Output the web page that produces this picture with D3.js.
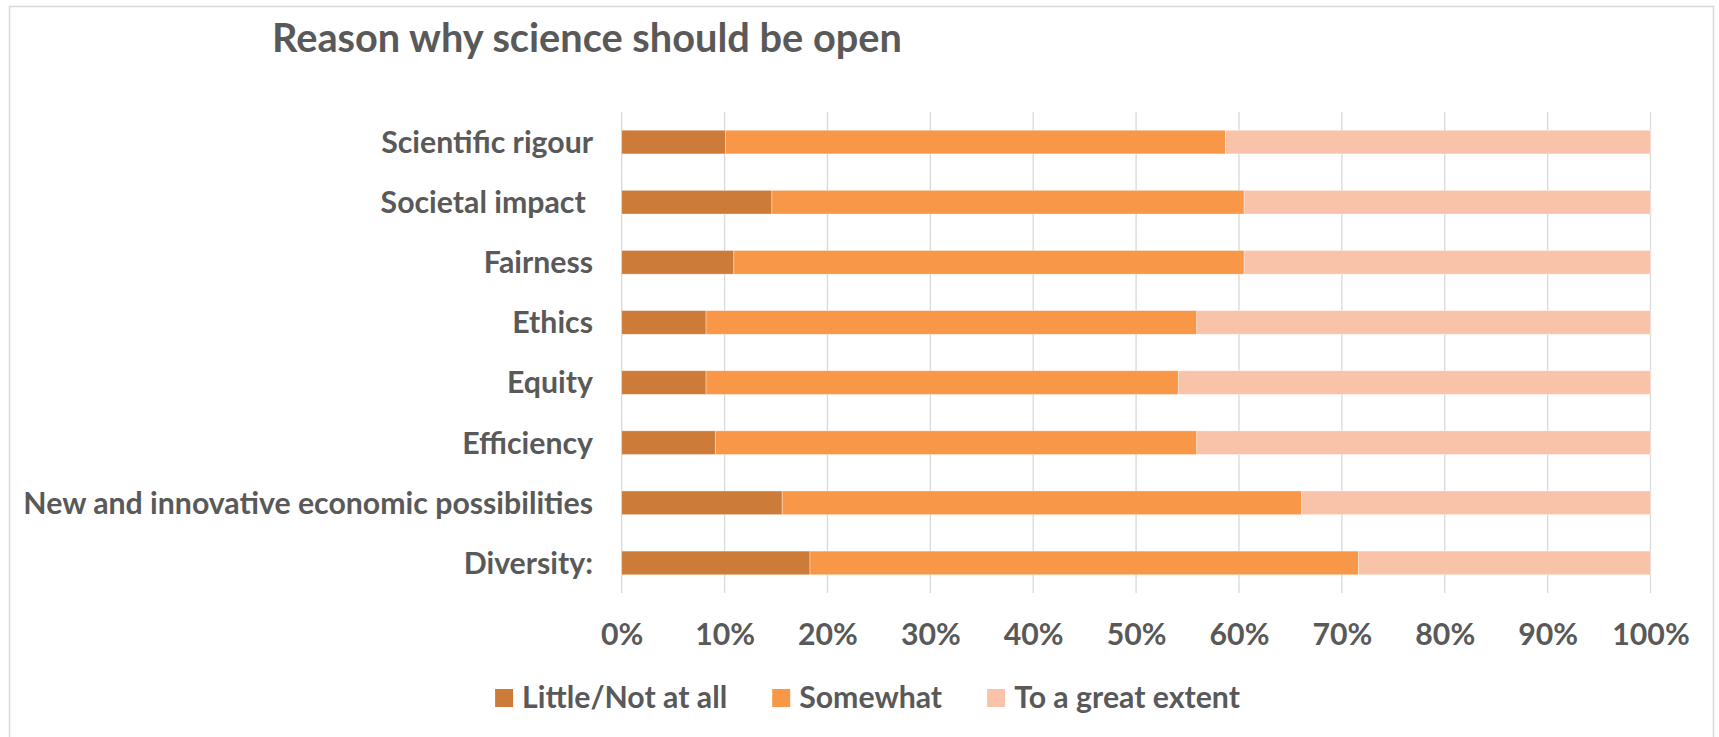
<!DOCTYPE html>
<html>
<head>
<meta charset="utf-8">
<script src="https://cdn.jsdelivr.net/npm/d3@7"></script>
<style>
  html, body { margin: 0; padding: 0; background: #ffffff; }
  svg { display: block; }
  text { font-family: Lato, "Open Sans", sans-serif; font-weight: 700; fill: #595959; }
</style>
</head>
<body>
<svg id="chart" width="1719" height="737"></svg>
<script>
// Survey answers (% of respondents), one entry per reason
const categories = [
  "Scientific rigour",
  "Societal impact ",
  "Fairness",
  "Ethics",
  "Equity",
  "Efficiency",
  "New and innovative economic possibilities",
  "Diversity:"
];
const littleNotAtAll = [10.1, 14.6, 10.9, 8.2, 8.2, 9.1, 15.6, 18.3];
const somewhat       = [48.6, 45.9, 49.6, 47.7, 45.9, 46.8, 50.5, 53.3];
const greatExtent    = [41.3, 39.5, 39.5, 44.1, 45.9, 44.1, 33.9, 28.4];

const seriesNames = ["Little/Not at all", "Somewhat", "To a great extent"];
const seriesColors = ["#CD7B38", "#F79747", "#F9C3AA"];
const tickValues = [0, 10, 20, 30, 40, 50, 60, 70, 80, 90, 100];
const chartTitle = "Reason why science should be open";

const svg = d3.select("#chart");

// outer chart frame
svg.append("rect")
  .attr("x", 9.5).attr("y", 6.5)
  .attr("width", 1704).attr("height", 740)
  .attr("fill", "none").attr("stroke", "#d9d9d9").attr("stroke-width", 1.5);

// font size that makes a string span a given width
function fitSize(str, width) {
  const probe = svg.append("text").style("font-size", "100px").text(str);
  const w = probe.node().getComputedTextLength();
  probe.remove();
  return 100 * width / w;
}
const fs = fitSize(categories[6], 570);   // body text size
const titleFs = fitSize(chartTitle, 630); // title size

const plot = { left: 621.7, right: 1650.5, top: 112, bottom: 593 };

const x = d3.scaleLinear().domain([0, 100]).range([plot.left, plot.right]);
const y = d3.scaleBand().domain(categories).range([plot.top, plot.bottom])
  .paddingInner(0.606).paddingOuter(0.303);

// vertical gridlines
svg.append("g")
  .selectAll("line")
  .data(tickValues)
  .join("line")
  .attr("x1", d => x(d)).attr("x2", d => x(d))
  .attr("y1", plot.top).attr("y2", plot.bottom)
  .attr("stroke", "#d9d9d9").attr("stroke-width", 1.3);

// stacked series
const rows = categories.map((c, i) => ({
  category: c,
  [seriesNames[0]]: littleNotAtAll[i],
  [seriesNames[1]]: somewhat[i],
  [seriesNames[2]]: greatExtent[i]
}));
const stacked = d3.stack().keys(seriesNames)(rows);

svg.append("g")
  .selectAll("g")
  .data(stacked)
  .join("g")
  .attr("fill", (d, i) => seriesColors[i])
  .selectAll("rect")
  .data(d => d)
  .join("rect")
  .attr("x", d => x(d[0]))
  .attr("width", d => x(d[1]) - x(d[0]))
  .attr("y", d => y(d.data.category))
  .attr("height", y.bandwidth())
  .attr("stroke", "#ffffff").attr("stroke-opacity", 0.45).attr("stroke-width", 0.8);

// category labels
svg.append("g")
  .selectAll("text")
  .data(categories)
  .join("text")
  .attr("x", 593)
  .attr("y", d => y(d) + y.bandwidth() / 2)
  .attr("dy", "0.36em")
  .attr("text-anchor", "end")
  .style("font-size", fs + "px")
  .style("white-space", "pre")
  .attr("xml:space", "preserve")
  .text(d => d);

// percentage axis
const xAxis = d3.axisBottom(x).tickValues(tickValues).tickFormat(d => d + "%").tickSize(0).tickPadding(0);
const axisG = svg.append("g").attr("transform", `translate(0, 645)`).call(xAxis);
axisG.select(".domain").remove();
axisG.selectAll("text")
  .attr("y", 0).attr("dy", 0)
  .style("font-size", fs + "px")
  .style("font-family", "Lato, 'Open Sans', sans-serif")
  .style("font-weight", 700)
  .attr("fill", "#595959");

// title
svg.append("text")
  .attr("x", 272).attr("y", 51.5)
  .style("font-size", titleFs + "px")
  .text(chartTitle);

// legend, laid out left to right and centred
const legend = svg.append("g");
const items = legend.selectAll("g").data(seriesNames).join("g");
items.append("rect")
  .attr("width", 18).attr("height", 18)
  .attr("y", 689)
  .attr("fill", (d, i) => seriesColors[i]);
items.append("text")
  .attr("x", 27).attr("y", 707.5)
  .style("font-size", fs + "px")
  .text(d => d);
let cursor = 0;
items.each(function () {
  const g = d3.select(this);
  g.attr("transform", `translate(${cursor},0)`);
  cursor += 27 + g.select("text").node().getComputedTextLength() + 45;
});
const legendW = cursor - 45;
legend.attr("transform", `translate(${867.5 - legendW / 2},0)`);
</script>
</body>
</html>
